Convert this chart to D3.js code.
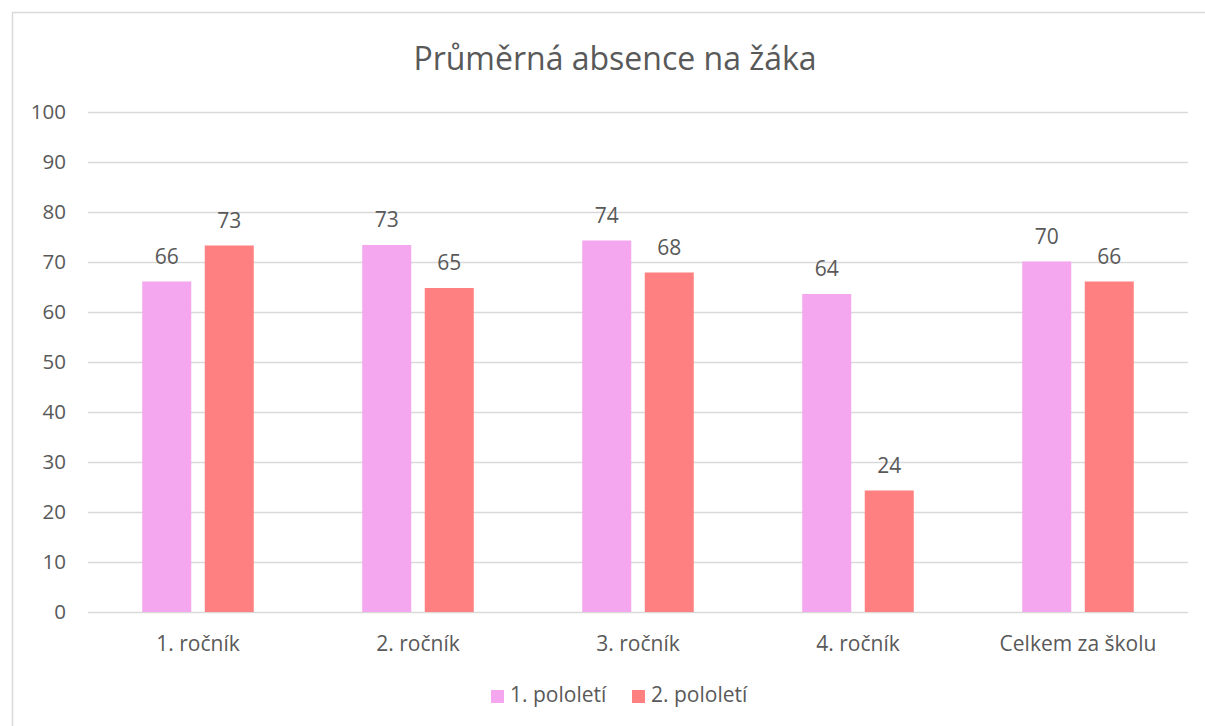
<!DOCTYPE html>
<html><head><meta charset="utf-8">
<script src="https://cdn.jsdelivr.net/npm/d3@7"></script>
<style>body{margin:0;background:#fff}svg{display:block}text{font-family:"Open Sans","Noto Sans",sans-serif;fill:#595959}</style>
</head><body><svg id="c" width="1205" height="726"></svg>
<script>
const categories = ["1. ročník","2. ročník","3. ročník","4. ročník","Celkem za školu"];
const seriesNames = ["1. pololetí","2. pololetí"];
const pololeti1 = [66.1, 73.4, 74.3, 63.6, 70.1];
const pololeti2 = [73.3, 64.8, 67.9, 24.3, 66.1];
const yTicks = [0,10,20,30,40,50,60,70,80,90,100];
const colors = ["#F4A6EE","#FF8080"];

const svg = d3.select("#c");
svg.append("rect").attr("x",12.5).attr("y",12.5).attr("width",1200).attr("height",720)
  .attr("fill","#fff").attr("stroke","#d9d9d9").attr("stroke-width",1.5);

const L=88,R=1188,T=112,B=612;
const x = d3.scaleBand().domain(categories).range([L,R]);
const y = d3.scaleLinear().domain([0,100]).range([B,T]);
const barW = 49, gap = 13.5;

svg.append("text").attr("x",615).attr("y",70).attr("text-anchor","middle")
  .style("font-size","32px").text("Průměrná absence na žáka");

const yAxis = svg.append("g").attr("transform",`translate(${L},0)`)
  .call(d3.axisLeft(y).tickValues(yTicks).tickSize(-(R-L)).tickPadding(22));
yAxis.select(".domain").remove();
yAxis.selectAll("line").attr("stroke","#d9d9d9").attr("stroke-width",1.5);
yAxis.selectAll("text").style("font-size","20.5px").attr("fill","#595959");

const xAxis = svg.append("g").attr("transform",`translate(0,${B})`)
  .call(d3.axisBottom(x).tickSize(0).tickPadding(24));
xAxis.select(".domain").remove();
xAxis.selectAll("text").style("font-size","21px").attr("fill","#595959");

const series = [pololeti1, pololeti2];
series.forEach((vals,si)=>{
  const g = svg.append("g");
  const off = si===0 ? -(gap/2+barW) : gap/2;
  g.selectAll("rect").data(vals).join("rect")
    .attr("x",(d,i)=>x(categories[i])+x.bandwidth()/2+off)
    .attr("y",d=>y(d)).attr("width",barW).attr("height",d=>B-y(d))
    .attr("fill",colors[si]);
  g.selectAll("text").data(vals).join("text")
    .attr("x",(d,i)=>x(categories[i])+x.bandwidth()/2+off+barW/2)
    .attr("y",d=>y(d)-18).attr("text-anchor","middle")
    .style("font-size","21px").attr("fill","#404040").text(d=>d3.format(".0f")(d));
});

const leg = svg.append("g");
const legX = [491, 632];
seriesNames.forEach((n,i)=>{
  leg.append("rect").attr("x",legX[i]).attr("y",690).attr("width",13).attr("height",13).attr("fill",colors[i]);
  leg.append("text").attr("x",legX[i]+19).attr("y",702).style("font-size","21px").text(n);
});
</script></body></html>
